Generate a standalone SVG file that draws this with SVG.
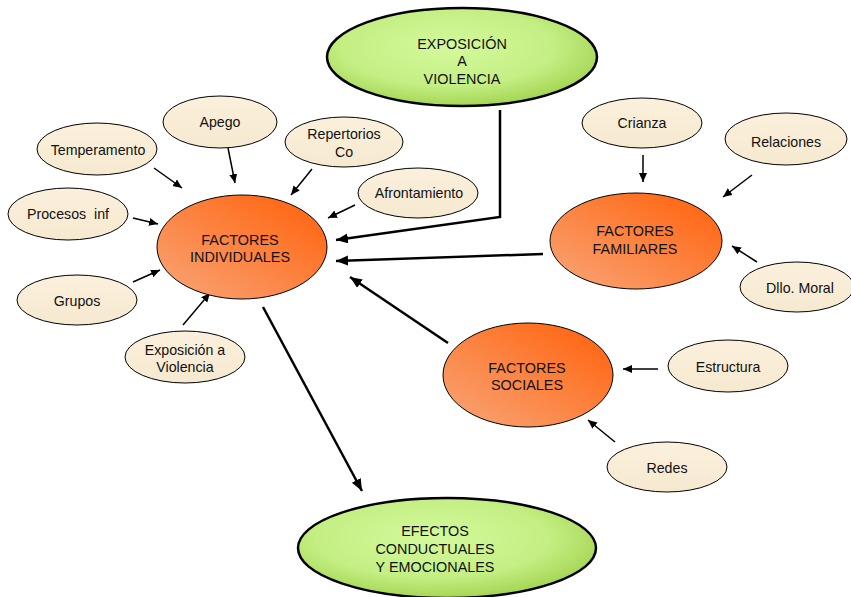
<svg xmlns="http://www.w3.org/2000/svg" width="851" height="597" viewBox="0 0 851 597">
<style>
text{font-family:"Liberation Sans",Arial,sans-serif;fill:#111;text-anchor:middle}
.big{font-size:14.4px}
.sm{font-size:14.2px}
.green{fill:url(#gG);stroke:#000;stroke-width:2.5}
.orange{fill:url(#gO);stroke:#000;stroke-width:1}
.cream{fill:url(#gC);stroke:#000;stroke-width:1}
.thick{stroke:#000;stroke-width:2.5;fill:none;marker-end:url(#ah)}
.thin{stroke:#000;stroke-width:1.5;fill:none;marker-end:url(#as)}
</style>
<defs>
<radialGradient id="gG" cx="0.45" cy="0.4" r="0.65">
<stop offset="0" stop-color="#d4f99c"/>
<stop offset="0.6" stop-color="#c4ef84"/>
<stop offset="1" stop-color="#9fd04a"/>
</radialGradient>
<linearGradient id="gO" x1="0.1" y1="0.9" x2="0.85" y2="0.15">
<stop offset="0" stop-color="#f99f6e"/>
<stop offset="1" stop-color="#ff6a18"/>
</linearGradient>
<linearGradient id="gC" x1="0" y1="0" x2="0" y2="1">
<stop offset="0" stop-color="#fbf0dc"/>
<stop offset="1" stop-color="#f6e9d0"/>
</linearGradient>
<marker id="ah" markerUnits="userSpaceOnUse" markerWidth="14" markerHeight="12" refX="12" refY="5" orient="auto">
<path d="M0,0 L12,5 L0,10 Z" fill="#000"/>
</marker>
<marker id="as" markerUnits="userSpaceOnUse" markerWidth="10" markerHeight="10" refX="9" refY="4" orient="auto">
<path d="M0,0 L9,4 L0,8 Z" fill="#000"/>
</marker>
</defs>
<rect width="851" height="597" fill="#fff"/>

<g id="connectors">
<polyline class="thick" points="500,110 500,217 336,240"/>
<line class="thick" x1="543" y1="254" x2="336" y2="261"/>
<line class="thick" x1="448" y1="343" x2="350" y2="277"/>
<line class="thick" x1="263" y1="307" x2="362" y2="491"/>
<line class="thin" x1="154" y1="168" x2="182" y2="188"/>
<line class="thin" x1="228" y1="148" x2="235" y2="183"/>
<line class="thin" x1="312" y1="169" x2="291" y2="195"/>
<line class="thin" x1="355" y1="205" x2="328" y2="218"/>
<line class="thin" x1="133" y1="218" x2="158" y2="224"/>
<line class="thin" x1="133" y1="282" x2="160" y2="270"/>
<line class="thin" x1="183" y1="325" x2="210" y2="293"/>
<line class="thin" x1="643" y1="155" x2="643" y2="182"/>
<line class="thin" x1="752" y1="175" x2="723" y2="197"/>
<line class="thin" x1="757" y1="262" x2="732" y2="246"/>
<line class="thin" x1="658" y1="369" x2="623" y2="369"/>
<line class="thin" x1="615" y1="442" x2="588" y2="420"/>
</g>

<g id="exposicion-violencia">
<ellipse class="green" cx="462" cy="57" rx="135" ry="49"/>
<text class="big" x="462" y="49">EXPOSICIÓN</text>
<text class="big" x="462" y="66">A</text>
<text class="big" x="462" y="84">VIOLENCIA</text>
</g>

<g id="factores-individuales">
<ellipse class="orange" cx="242" cy="247" rx="85" ry="52"/>
<text class="big" x="240" y="245">FACTORES</text>
<text class="big" x="240" y="262">INDIVIDUALES</text>
</g>

<g id="factores-familiares">
<ellipse class="orange" cx="636" cy="241" rx="86" ry="48"/>
<text class="big" x="635" y="236">FACTORES</text>
<text class="big" x="635" y="254">FAMILIARES</text>
</g>

<g id="factores-sociales">
<ellipse class="orange" cx="528" cy="375" rx="85" ry="52"/>
<text class="big" x="527" y="373">FACTORES</text>
<text class="big" x="527" y="390">SOCIALES</text>
</g>

<g id="efectos">
<ellipse class="green" cx="447" cy="548" rx="149" ry="50"/>
<text class="big" x="435" y="536">EFECTOS</text>
<text class="big" x="435" y="554">CONDUCTUALES</text>
<text class="big" x="435" y="572">Y EMOCIONALES</text>
</g>

<g id="apego">
<ellipse class="cream" cx="220" cy="122" rx="57" ry="26"/>
<text class="sm" x="220" y="127">Apego</text>
</g>
<g id="temperamento">
<ellipse class="cream" cx="97" cy="149" rx="60" ry="26"/>
<text class="sm" x="98" y="155">Temperamento</text>
</g>
<g id="repertorios">
<ellipse class="cream" cx="344" cy="142" rx="59" ry="25"/>
<text class="sm" x="344" y="139">Repertorios</text>
<text class="sm" x="344" y="157">Co</text>
</g>
<g id="afrontamiento">
<ellipse class="cream" cx="418" cy="193" rx="60" ry="25"/>
<text class="sm" x="419" y="198">Afrontamiento</text>
</g>
<g id="procesos">
<ellipse class="cream" cx="68" cy="214" rx="60" ry="26"/>
<text class="sm" x="68" y="219" xml:space="preserve">Procesos  inf</text>
</g>
<g id="grupos">
<ellipse class="cream" cx="77" cy="300" rx="60" ry="25"/>
<text class="sm" x="77" y="306">Grupos</text>
</g>
<g id="exposicion-a-violencia">
<ellipse class="cream" cx="185" cy="357" rx="60" ry="26"/>
<text class="sm" x="185" y="355">Exposición a</text>
<text class="sm" x="185" y="372">Violencia</text>
</g>
<g id="crianza">
<ellipse class="cream" cx="642" cy="123" rx="60" ry="25"/>
<text class="sm" x="642" y="128">Crianza</text>
</g>
<g id="relaciones">
<ellipse class="cream" cx="786" cy="139" rx="61" ry="26"/>
<text class="sm" x="786" y="147">Relaciones</text>
</g>
<g id="dllo-moral">
<ellipse class="cream" cx="797" cy="287" rx="57" ry="25"/>
<text class="sm" x="800" y="293">Dllo. Moral</text>
</g>
<g id="estructura">
<ellipse class="cream" cx="728" cy="366" rx="60" ry="26"/>
<text class="sm" x="728" y="372">Estructura</text>
</g>
<g id="redes">
<ellipse class="cream" cx="667" cy="467" rx="60" ry="25"/>
<text class="sm" x="667" y="473">Redes</text>
</g>
</svg>
